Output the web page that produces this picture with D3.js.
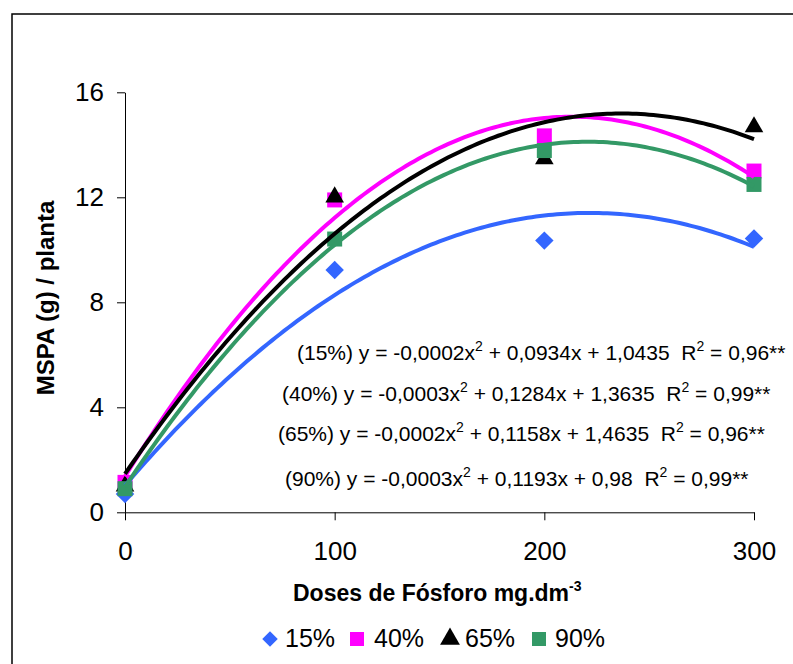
<!DOCTYPE html>
<html>
<head>
<meta charset="utf-8">
<script src="https://cdn.jsdelivr.net/npm/d3@7"></script>
<style>
  html, body { margin: 0; padding: 0; background: #fff; }
  svg { display: block; font-family: Arial, "Liberation Sans", sans-serif; }
  text { white-space: pre; }
</style>
</head>
<body>
<svg id="chart" width="793" height="664"></svg>
<script>
// Phosphorus doses (mg.dm-3) and shoot dry mass per plant for each level
const doses = [0, 100, 200, 300];
const levels = ["15%", "40%", "65%", "90%"];
const mspa15 = [0.70, 9.23, 10.35, 10.43];
const mspa40 = [1.14, 11.90, 14.34, 13.00];
const mspa65 = [1.00, 12.01, 13.46, 14.68];
const mspa90 = [0.90, 10.41, 13.78, 12.49];
const colors = ["#3366FF", "#FF00FF", "#000000", "#339966"];
const symbols = ["diamond", "square", "triangle", "square"];
const eqLabel = [
  ["(15%) y = -0,0002x", "2", " + 0,0934x + 1,0435  R", "2", " = 0,96**"],
  ["(40%) y = -0,0003x", "2", " + 0,1284x + 1,3635  R", "2", " = 0,99**"],
  ["(65%) y = -0,0002x", "2", " + 0,1158x + 1,4635  R", "2", " = 0,96**"],
  ["(90%) y = -0,0003x", "2", " + 0,1193x + 0,98  R", "2", " = 0,99**"]
];
const xTicks = [0, 100, 200, 300];
const yTicks = [0, 4, 8, 12, 16];

const values = [mspa15, mspa40, mspa65, mspa90];

// Least-squares second-order polynomial (Excel-style trendline)
function quadFit(xs, ys) {
  let s = [0, 0, 0, 0, 0], t = [0, 0, 0];
  xs.forEach((x, i) => {
    for (let k = 0; k < 5; k++) s[k] += Math.pow(x, k);
    for (let k = 0; k < 3; k++) t[k] += Math.pow(x, k) * ys[i];
  });
  const M = [[s[0], s[1], s[2], t[0]], [s[1], s[2], s[3], t[1]], [s[2], s[3], s[4], t[2]]];
  for (let i = 0; i < 3; i++) {
    let p = i;
    for (let r = i + 1; r < 3; r++) if (Math.abs(M[r][i]) > Math.abs(M[p][i])) p = r;
    [M[i], M[p]] = [M[p], M[i]];
    for (let r = 0; r < 3; r++) {
      if (r === i) continue;
      const f = M[r][i] / M[i][i];
      for (let c = i; c < 4; c++) M[r][c] -= f * M[i][c];
    }
  }
  const c = M[0][3] / M[0][0], b = M[1][3] / M[1][1], a = M[2][3] / M[2][2];
  return x => a * x * x + b * x + c;
}

const svg = d3.select("#chart");
svg.append("rect").attr("width", 793).attr("height", 664).attr("fill", "#fff");
// outer frame
svg.append("rect").attr("x", 12).attr("y", 14).attr("width", 1000).attr("height", 1000)
  .attr("fill", "none").attr("stroke", "#000").attr("stroke-width", 1.5);

const x = d3.scaleLinear().domain([0, 300]).range([125, 754]);
const y = d3.scaleLinear().domain([0, 16]).range([512.3, 92.3]);

// axes
const yAxis = svg.append("g").attr("transform", `translate(${x(0)},0)`)
  .call(d3.axisLeft(y).tickValues(yTicks).tickSize(8).tickSizeOuter(0).tickPadding(13).tickFormat(d3.format("d")));
const xAxis = svg.append("g").attr("transform", `translate(0,${y(0)})`)
  .call(d3.axisBottom(x).tickValues(xTicks).tickSize(8).tickSizeOuter(0).tickPadding(21).tickFormat(d3.format("d")));
[yAxis, xAxis].forEach(g => {
  g.selectAll("text").attr("font-size", 26).attr("font-family", "Arial, 'Liberation Sans', sans-serif").attr("fill", "#000");
  g.selectAll("line, path").attr("stroke", "#000").attr("stroke-width", 1);
});

// markers
const markerSize = { diamond: 170, square: 225, triangle: 150 };
function symbolPath(name, size) {
  if (name === "triangle") return d3.symbol(d3.symbolTriangle, size)();
  return d3.symbol(d3.symbolSquare, size)();
}
values.forEach((vals, i) => {
  svg.append("g").selectAll("path").data(vals).join("path")
    .attr("d", symbolPath(symbols[i], markerSize[symbols[i]]))
    .attr("transform", (d, j) => `translate(${x(doses[j])},${y(d)})` + (symbols[i] === "diamond" ? " rotate(45)" : ""))
    .attr("fill", colors[i]);
});

// polynomial trendlines
const xs = d3.range(0, 300.5, 2);
values.forEach((vals, i) => {
  const f = quadFit(doses, vals);
  svg.append("path")
    .datum(xs)
    .attr("d", d3.line().x(d => x(d)).y(d => y(f(d))))
    .attr("fill", "none").attr("stroke", colors[i]).attr("stroke-width", 4)
    .attr("stroke-linejoin", "round");
});

// regression equations
const eqPos = [[297, 360], [282, 401], [278, 441], [285, 486]];
eqLabel.forEach((parts, i) => {
  const t = svg.append("text").attr("x", eqPos[i][0]).attr("y", eqPos[i][1])
    .attr("xml:space", "preserve").attr("font-size", 21).attr("fill", "#000");
  parts.forEach((p, k) => {
    const sup = k === 1 || k === 3;
    t.append("tspan").text(p)
      .attr("font-size", sup ? 14 : 21)
      .attr("dy", sup ? -9 : (k > 0 ? 9 : 0));
  });
});

// axis titles
svg.append("text").attr("transform", `translate(54,298) rotate(-90)`)
  .attr("text-anchor", "middle").attr("font-size", 24).attr("font-weight", "bold")
  .text("MSPA (g) / planta");
const xt = svg.append("text").attr("x", 293).attr("y", 601)
  .attr("font-size", 23).attr("font-weight", "bold");
xt.append("tspan").text("Doses de Fósforo mg.dm");
xt.append("tspan").text("-3").attr("font-size", 14).attr("dy", -10);

// legend
const legX = [[270, 285], [357, 374], [450, 465], [539, 555]];
const legSize = { diamond: 120, square: 196, triangle: 170 };
levels.forEach((lv, i) => {
  const ly = 639;
  svg.append("path")
    .attr("d", symbolPath(symbols[i], legSize[symbols[i]]))
    .attr("transform", `translate(${legX[i][0]},${ly})` + (symbols[i] === "diamond" ? " rotate(45)" : ""))
    .attr("fill", colors[i]);
  svg.append("text").attr("x", legX[i][1]).attr("y", 647).attr("font-size", 25).text(lv);
});
</script>
</body>
</html>
